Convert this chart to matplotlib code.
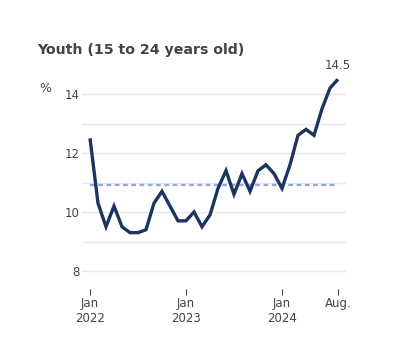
import numpy as np
import matplotlib.pyplot as plt

# monthly youth unemployment rate, Jan 2022 - Aug 2024
months = np.arange(32)
rate = [12.5, 10.3, 9.5, 10.2, 9.5, 9.3, 9.3, 9.4, 10.3, 10.7, 10.2, 9.7,
        9.7, 10.0, 9.5, 9.9, 10.8, 11.4, 10.6, 11.3, 10.7, 11.4, 11.6, 11.3,
        10.8, 11.6, 12.6, 12.8, 12.6, 13.5, 14.2, 14.5]
average = 10.9

tick_pos = [0, 12, 24, 31]
tick_labels = ["Jan\n2022", "Jan\n2023", "Jan\n2024", "Aug."]
y_ticks = [8, 10, 12, 14]

text_col = "#444444"

fig = plt.figure(figsize=(3.96, 3.54), dpi=100)
ax = fig.add_axes([82 / 396, 1 - 288.7 / 354, 264 / 396, 218.3 / 354])

for v in [8, 9, 10, 11, 12, 13, 14]:
    ax.axhline(v, color="#e8e8e8", lw=1, zorder=0)

ax.plot([months[0], months[-1]], [average, average], color="#8faadc",
        lw=1.7, linestyle=(0, (2, 1.5)), zorder=1)
ax.plot(months, rate, color="#1d3461", lw=2.4, solid_capstyle="butt",
        solid_joinstyle="miter", zorder=2)

ax.text(months[-1], rate[-1] + 0.25, f"{rate[-1]}", ha="center", va="bottom",
        fontsize=8.5, color=text_col)

ax.set_xlim(-1, 32)
ax.set_ylim(7.4, 14.8)
ax.set_yticks(y_ticks)
ax.set_yticklabels([str(t) for t in y_ticks])
ax.set_xticks(tick_pos)
ax.set_xticklabels(tick_labels)
ax.tick_params(axis="y", length=0, pad=2, labelsize=8.5, labelcolor=text_col)
ax.tick_params(axis="x", length=4, width=0.8, color="#444444", pad=2,
               labelsize=8.5, labelcolor=text_col)
for s in ax.spines.values():
    s.set_visible(False)

fig.text(37 / 396, 1 - 50 / 354, "Youth (15 to 24 years old)", fontsize=10.2,
         fontweight="bold", color=text_col, va="center", ha="left")
fig.text(39 / 396, 1 - 89 / 354, "%", fontsize=9, color=text_col,
         va="center", ha="left")

fig.savefig("out.png", dpi=100)
